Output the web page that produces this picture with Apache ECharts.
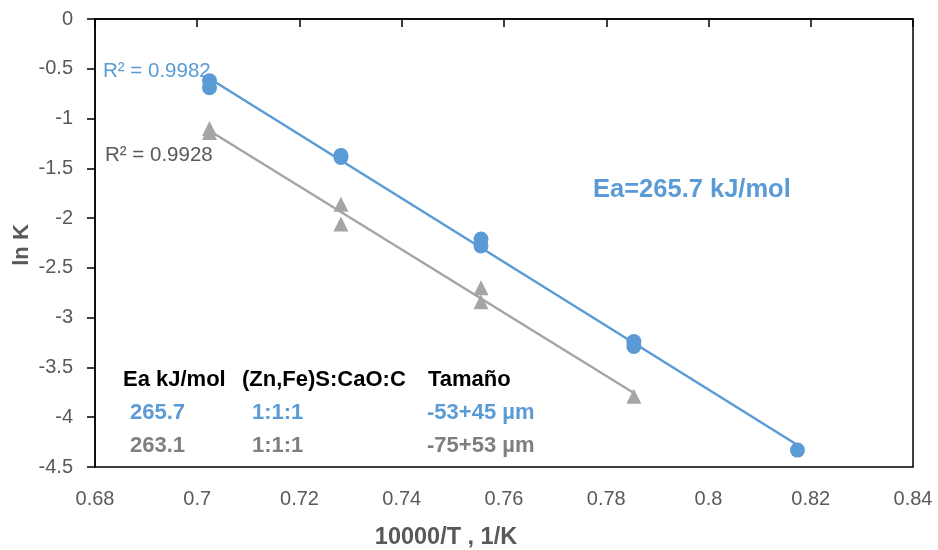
<!DOCTYPE html>
<html>
<head>
<meta charset="utf-8">
<script src="https://cdn.jsdelivr.net/npm/echarts@6/dist/echarts.min.js"></script>
<style>
  html, body { margin: 0; padding: 0; background: #fff; }
  #chart { width: 938px; height: 550px; }
</style>
</head>
<body>
<div id="chart"></div>
<script>
// Arrhenius plot: ln K against 10000/T for two particle-size fractions
const fineX = [0.7024, 0.7024, 0.7281, 0.7281, 0.7555, 0.7555, 0.7854, 0.7854, 0.8174];
const fineY = [-0.62, -0.69, -1.37, -1.39, -2.21, -2.28, -3.24, -3.29, -4.33];
const coarseX = [0.7024, 0.7024, 0.7281, 0.7281, 0.7555, 0.7555, 0.7854];
const coarseY = [-1.10, -1.14, -1.86, -2.06, -2.70, -2.84, -3.79];

const fineR2 = 'R² = 0.9982';
const coarseR2 = 'R² = 0.9928';
const eaNote = 'Ea=265.7 kJ/mol';

const tableHeader = ['Ea kJ/mol', '(Zn,Fe)S:CaO:C', 'Tamaño'];
const tableFine = ['265.7', '1:1:1', '-53+45 µm'];
const tableCoarse = ['263.1', '1:1:1', '-75+53 µm'];

const xName = '10000/T , 1/K';
const yName = 'ln K';

const BLUE = '#5b9bd5';
const GRAY = '#a5a5a5';
const FONT = '"Liberation Sans", Arial, sans-serif';

// least-squares straight line through a point set, spanning its x range
function trend(xs, ys) {
  const n = xs.length;
  const mx = xs.reduce((a, b) => a + b, 0) / n;
  const my = ys.reduce((a, b) => a + b, 0) / n;
  let sxy = 0, sxx = 0;
  for (let i = 0; i < n; i++) {
    sxy += (xs[i] - mx) * (ys[i] - my);
    sxx += (xs[i] - mx) * (xs[i] - mx);
  }
  const b = sxy / sxx, a = my - b * mx;
  const x0 = Math.min(...xs), x1 = Math.max(...xs);
  return [[x0, a + b * x0], [x1, a + b * x1]];
}

const pairs = (xs, ys) => xs.map((x, i) => [x, ys[i]]);

function txt(x, y, s, opt) {
  return {
    type: 'text', x: x, y: y, z: 100,
    style: Object.assign({
      text: s, fill: '#595959', font: '20.5px ' + FONT,
      textAlign: 'left', textVerticalAlign: 'middle'
    }, opt || {})
  };
}

const tableCols = [123, 242, 428];
const rowShift = [7, 10, -1];
const boldTable = 'bold 22px ' + FONT;
const graphics = [
  txt(103, 71, fineR2, { fill: BLUE }),
  txt(105, 155, coarseR2, { fill: '#595959' }),
  txt(593, 190, eaNote, { fill: BLUE, font: 'bold 25.5px ' + FONT }),
  txt(446, 538, xName, { font: 'bold 23.5px ' + FONT, textAlign: 'center' }),
  {
    type: 'text', x: 22, y: 245, rotation: Math.PI / 2, z: 100,
    style: { text: yName, fill: '#595959', font: 'bold 22px ' + FONT,
             textAlign: 'center', textVerticalAlign: 'middle' }
  }
];
tableHeader.forEach((s, i) => graphics.push(txt(tableCols[i], 380, s, { fill: '#000', font: boldTable })));
tableFine.forEach((s, i) => graphics.push(txt(tableCols[i] + rowShift[i], 413, s, { fill: BLUE, font: boldTable })));
tableCoarse.forEach((s, i) => graphics.push(txt(tableCols[i] + rowShift[i], 446, s, { fill: '#7f7f7f', font: boldTable })));

const axisLabel = { color: '#595959', fontFamily: FONT, fontSize: 20 };

const chart = echarts.init(document.getElementById('chart'), null, { renderer: 'canvas' });
chart.setOption({
  animation: false,
  backgroundColor: '#fff',
  grid: {
    left: 95, right: 25, top: 19, bottom: 83,
    show: true, borderColor: '#000', borderWidth: 1.5, backgroundColor: 'transparent'
  },
  xAxis: {
    type: 'value', min: 0.68, max: 0.84, interval: 0.02,
    axisLine: { show: true, lineStyle: { color: '#000', width: 1.5 } },
    axisTick: { show: true, length: 8, lineStyle: { color: '#000', width: 1.5 } },
    axisLabel: Object.assign({ margin: 22 }, axisLabel),
    splitLine: { show: false }
  },
  yAxis: {
    type: 'value', min: -4.5, max: 0, interval: 0.5,
    axisLine: { show: true, lineStyle: { color: '#000', width: 1.5 } },
    axisTick: { show: true, length: 8, lineStyle: { color: '#000', width: 1.5 } },
    axisLabel: Object.assign({ margin: 22 }, axisLabel),
    splitLine: { show: false }
  },
  series: [
    {
      type: 'line', data: trend(fineX, fineY), showSymbol: false, symbol: 'none',
      lineStyle: { color: BLUE, width: 2.5 }, z: 2, silent: true
    },
    {
      type: 'line', data: trend(coarseX, coarseY), showSymbol: false, symbol: 'none',
      lineStyle: { color: GRAY, width: 2.5 }, z: 2, silent: true
    },
    {
      type: 'scatter', data: pairs(fineX, fineY), symbol: 'circle', symbolSize: 15,
      itemStyle: { color: BLUE, opacity: 1 }, z: 3
    },
    {
      type: 'scatter', data: pairs(coarseX, coarseY), symbol: 'triangle', symbolSize: 15,
      itemStyle: { color: GRAY, opacity: 1 }, z: 3
    }
  ],
  graphic: graphics
});
</script>
</body>
</html>
